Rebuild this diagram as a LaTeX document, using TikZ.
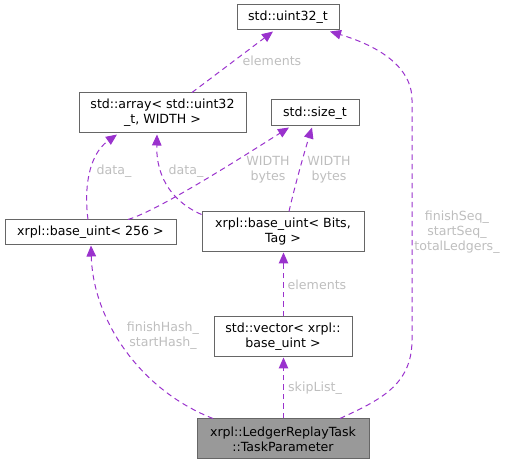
\documentclass[tikz,border=0pt]{standalone}
\usepackage{fontspec}
\setmainfont{DejaVu Sans}
\usetikzlibrary{arrows.meta,calc}
\definecolor{edgec}{HTML}{9A32CD}
\definecolor{boxc}{HTML}{666666}
\definecolor{lblc}{HTML}{BEBEBE}
\definecolor{tpfill}{HTML}{999999}
\tikzset{
  cls/.style={draw=boxc, line width=1pt, fill=white, inner sep=0pt, align=center,
    font=\fontsize{12.6}{15}\selectfont, text=black},
  edge/.style={draw=edgec, line width=1pt, dash pattern=on 5.5pt off 4pt,
    -{Triangle[length=11pt,width=9.5pt,fill=edgec]}},
  lbl/.style={text=lblc, align=center, inner sep=0pt, font=\fontsize{12.6}{15}\selectfont},
}
\begin{document}
\begin{tikzpicture}[x=1pt,y=-1pt]
\useasboundingbox (0,0) rectangle (507,465);
% nodes
\node[cls, minimum width=102pt, minimum height=25pt] (u32) at (288,17.5) {std::uint32\_t};
\node[cls, minimum width=167pt, minimum height=40pt] (arr) at (162.5,113) {std::array< std::uint32\\\_t, WIDTH >};
\node[cls, minimum width=88pt, minimum height=26pt] (sz) at (315,113) {std::size\_t};
\node[cls, minimum width=171pt, minimum height=25pt] (b256) at (90.5,232.5) {xrpl::base\_uint< 256 >};
\node[cls, minimum width=162pt, minimum height=40pt] (bits) at (283,232) {xrpl::base\_uint< Bits,\\Tag >};
\node[cls, minimum width=138pt, minimum height=40pt] (vec) at (283,337) {std::vector< xrpl::\\base\_uint >};
\node[cls, fill=tpfill, minimum width=172pt, minimum height=40pt] (tp) at (283,439) {xrpl::LedgerReplayTask\\::TaskParameter};
% edges
\draw[edge] ($(arr.north)+(29.5,0)$) -- ($(u32.south)+(-15,1)$);
\draw[edge] ($(bits.north west)+(0,3)$) .. controls (175,203) and (156,180) .. ($(arr.south)+(-5.5,1)$);
\draw[edge] ($(b256.north)+(-2.5,0)$) .. controls (84,190) and (88,155) .. ($(arr.south)+(-45.5,1)$);
\draw[edge] ($(b256.north)+(37.5,0)$) .. controls (160,210) and (250,152) .. ($(sz.south)+(-26,1)$);
\draw[edge] ($(bits.north)+(6,0)$) .. controls (295,185) and (305,150) .. ($(sz.south)+(-3,1)$);
\draw[edge] ($(vec.north)+(0.5,0)$) -- ($(bits.south)+(0.5,0)$);
\draw[edge] ($(tp.north)+(0.5,0)$) -- ($(vec.south)+(0.5,0)$);
\draw[edge] ($(tp.north)+(-70,0)$) .. controls (140,390) and (93,320) .. ($(b256.south)+(0.5,0)$);
\draw[edge] ($(tp.north)+(57,0)$) .. controls (380,400) and (412,385) .. (412,340)
  -- (412,100) .. controls (412,65) and (375,45) .. ($(u32.south)+(42,1)$);
% labels
\node[lbl] (l1) at (272,61) {elements};
\node[lbl] (l2) at (114,171) {data\_};
\node[lbl] (l3) at (186,171) {data\_};
\node[lbl] (l4) at (268,170) {WIDTH\\bytes};
\node[lbl] (l5) at (329,170) {WIDTH\\bytes};
\node[lbl] (l6) at (457,232) {finishSeq\_\\startSeq\_\\totalLedgers\_};
\node[lbl] (l7) at (317,285) {elements};
\node[lbl] (l8) at (163,336) {finishHash\_\\startHash\_};
\node[lbl] (l9) at (315,388) {skipList\_};
\end{tikzpicture}
\end{document}
